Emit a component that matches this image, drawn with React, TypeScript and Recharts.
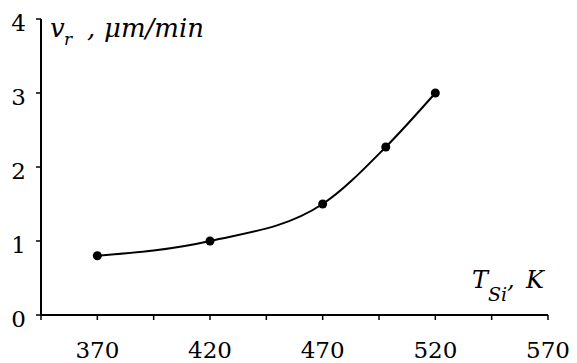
import { LineChart, Line, XAxis, YAxis } from "recharts"

// values
const temperatures = [370, 420, 470, 498, 520]
const rates = [0.8, 1.0, 1.5, 2.27, 3.0]
const xTicks = [345, 370, 395, 420, 445, 470, 495, 520, 545, 570]
const xLabels = [370, 420, 470, 520, 570]
const yTicks = [0, 1, 2, 3, 4]

const data = temperatures.map((t, i) => ({ t, v: rates[i] }))

const serifFont = "DejaVu Serif"

const XTick = ({ x, y, payload }: any) =>
  xLabels.includes(payload.value) ? (
    <text x={x} y={y} dy={36} textAnchor="middle" fontSize={23} fontFamily={serifFont} fill="#000">
      {payload.value}
    </text>
  ) : (
    <g />
  )

const YTick = ({ x, y, payload }: any) => (
  <text x={x} y={y} dy={12} textAnchor="end" fontSize={23} fontFamily={serifFont} fill="#000">
    {payload.value}
  </text>
)

const YTitle = () => (
  <text y={37} fontSize={26} fontStyle="italic" fontFamily={serifFont} fill="#000">
    <tspan x={50}>v</tspan>
    <tspan x={64} dy={8} fontSize={17}>r</tspan>
    <tspan x={87} dy={-8}>,</tspan>
    <tspan x={104}>μm/min</tspan>
  </text>
)

const XTitle = () => (
  <text y={288} fontSize={24} fontStyle="italic" fontFamily={serifFont} fill="#000">
    <tspan x={472}>T</tspan>
    <tspan x={488} dy={13} fontSize={19}>Si</tspan>
    <tspan dy={-13}>,</tspan>
    <tspan x={526}>K</tspan>
  </text>
)

export default function App() {
  return (
    <div style={{ position: "absolute", left: 0, top: 0, background: "#fff" }}>
      <LineChart width={577} height={363} data={data} margin={{ top: 19, right: 29, bottom: 0, left: 0 }}>
        <XAxis
          type="number"
          dataKey="t"
          domain={[345, 570]}
          ticks={xTicks}
          height={48}
          tickSize={5}
          tickMargin={2}
          axisLine={{ stroke: "#000", strokeWidth: 2 }}
          tickLine={{ stroke: "#000", strokeWidth: 1.5 }}
          tick={<XTick />}
          label={{ content: () => <XTitle /> }}
        />
        <YAxis
          type="number"
          domain={[0, 4]}
          ticks={yTicks}
          width={41}
          tickSize={5}
          tickMargin={10}
          axisLine={{ stroke: "#000", strokeWidth: 2 }}
          tickLine={{ stroke: "#000", strokeWidth: 1.5 }}
          tick={<YTick />}
          label={{ content: () => <YTitle /> }}
        />
        <Line
          type="monotone"
          dataKey="v"
          stroke="#000"
          strokeWidth={2}
          dot={{ r: 4.5, fill: "#000", stroke: "#000", strokeWidth: 0 }}
          isAnimationActive={false}
        />
      </LineChart>
    </div>
  )
}
